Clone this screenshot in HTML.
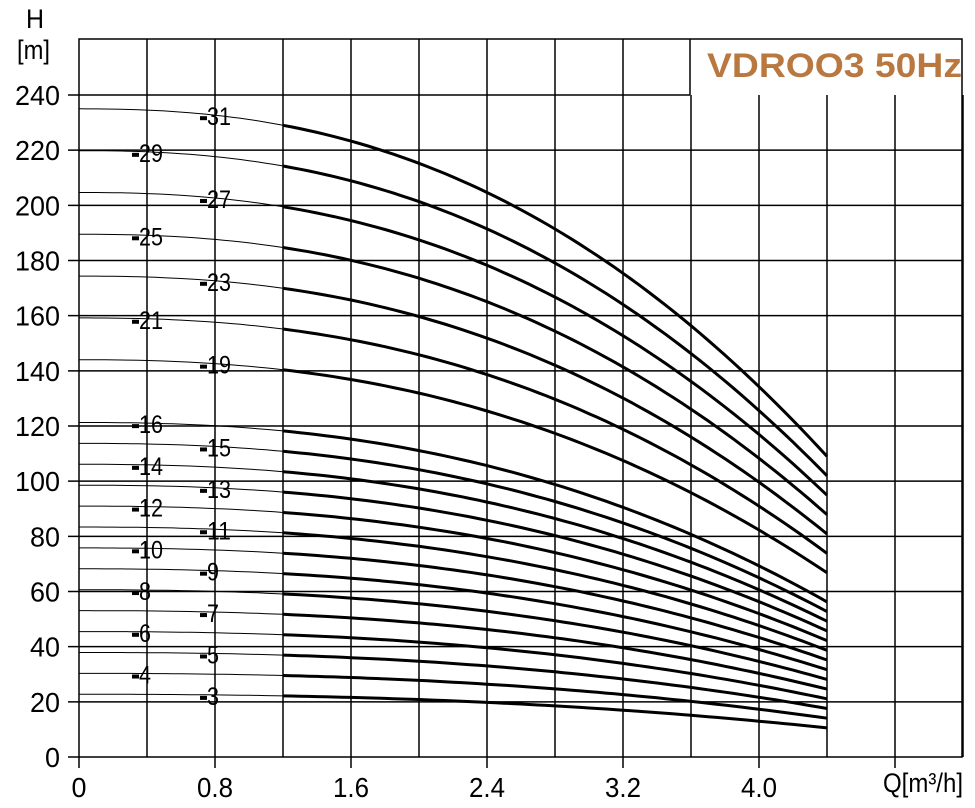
<!DOCTYPE html>
<html><head><meta charset="utf-8"><style>
html,body{margin:0;padding:0;background:#fff}
svg{display:block}
text{font-family:"Liberation Sans",sans-serif;fill:#000}
</style></head><body>
<svg id="s" width="975" height="808" viewBox="0 0 975 808" xmlns="http://www.w3.org/2000/svg">
<g id="grid" stroke="#000" stroke-width="1.5" fill="none"></g>
<g id="curves" fill="none" stroke="#000"></g>
<g id="labels"></g>
<text x="26" y="28" font-size="27" textLength="18" lengthAdjust="spacingAndGlyphs">H</text>
<text x="17" y="59" font-size="27" textLength="33" lengthAdjust="spacingAndGlyphs">[m]</text>
<text x="883" y="792" font-size="27" textLength="80" lengthAdjust="spacingAndGlyphs">Q[m³/h]</text>
<text x="707" y="77" font-size="34" font-weight="bold" textLength="255" lengthAdjust="spacingAndGlyphs" style="fill:#b87840">VDROO3 50Hz</text>
</svg>
<script>
const X0=79,DX=68/0.4,Y0=757,DY=662/240;
const X=q=>X0+q*DX, Y=h=>Y0-h*DY;
const ns="http://www.w3.org/2000/svg";
function el(p,t,a,txt){const e=document.createElementNS(ns,t);for(const k in a)e.setAttribute(k,a[k]);if(txt!==undefined)e.textContent=txt;document.getElementById(p).appendChild(e);return e;}
function tx(x,y,s,fs,cw,anchor){const w=s.length*cw;let xx=x;if(anchor=="end")xx=x-w;if(anchor=="middle")xx=x-w/2;
 return el("labels","text",{x:xx,y:y,"font-size":fs,textLength:w,lengthAdjust:"spacingAndGlyphs"},s);}
el("grid","path",{d:`M${X0} 39H962V${Y0}H${X0}Z`});
for(let h=20;h<=240;h+=20){const y=Y(h);el("grid","path",{d:`M68 ${y}H${h==240?690:962}`});
 tx(60,y+10,String(h),28,15,"end");}
el("grid","path",{d:`M68 ${Y0}H${X0}`});
tx(60,Y0+10,"0",28,15,"end");
el("grid","path",{d:`M690 39V95`});
for(let i=1;i<=13;i++){const x=X0+i*68;const top=x>690?95:39;el("grid","path",{d:`M${x} ${top}V${Y0+(i%2==0?11:0)}`});}
el("grid","path",{d:`M${X0} ${Y0}V768`});
["0","0.8","1.6","2.4","3.2","4.0"].forEach((t,i)=>tx(X0+i*136,797,t,28,t.length==1?15:12,"middle"));
const H=(n,q)=>n*(7.58-0.125*Math.pow(q,2.35));
const stages=[3,4,5,6,7,8,9,10,11,12,13,14,15,16,19,21,23,25,27,29,31];
stages.forEach((n,idx)=>{
 let d1="",d2="";
 for(let q=0;q<=1.2001;q+=0.05)d1+=(q==0?"M":"L")+X(q).toFixed(1)+" "+Y(H(n,q)).toFixed(1);
 for(let q=1.2;q<=4.4001;q+=0.05)d2+=(q==1.2?"M":"L")+X(q).toFixed(1)+" "+Y(H(n,q)).toFixed(1);
 el("curves","path",{d:d1,"stroke-width":1});
 el("curves","path",{d:d2,"stroke-width":3});
 const odd=(idx%2==0);const q=odd?0.8:0.4;
 const x=X(q)-11,y=Y(H(n,q));
 el("labels","rect",{x:x-4,y:y+1,width:7,height:4});
 const s=String(n);tx(x+3,y+10,s,25,12);
});
</script>
</body></html>
